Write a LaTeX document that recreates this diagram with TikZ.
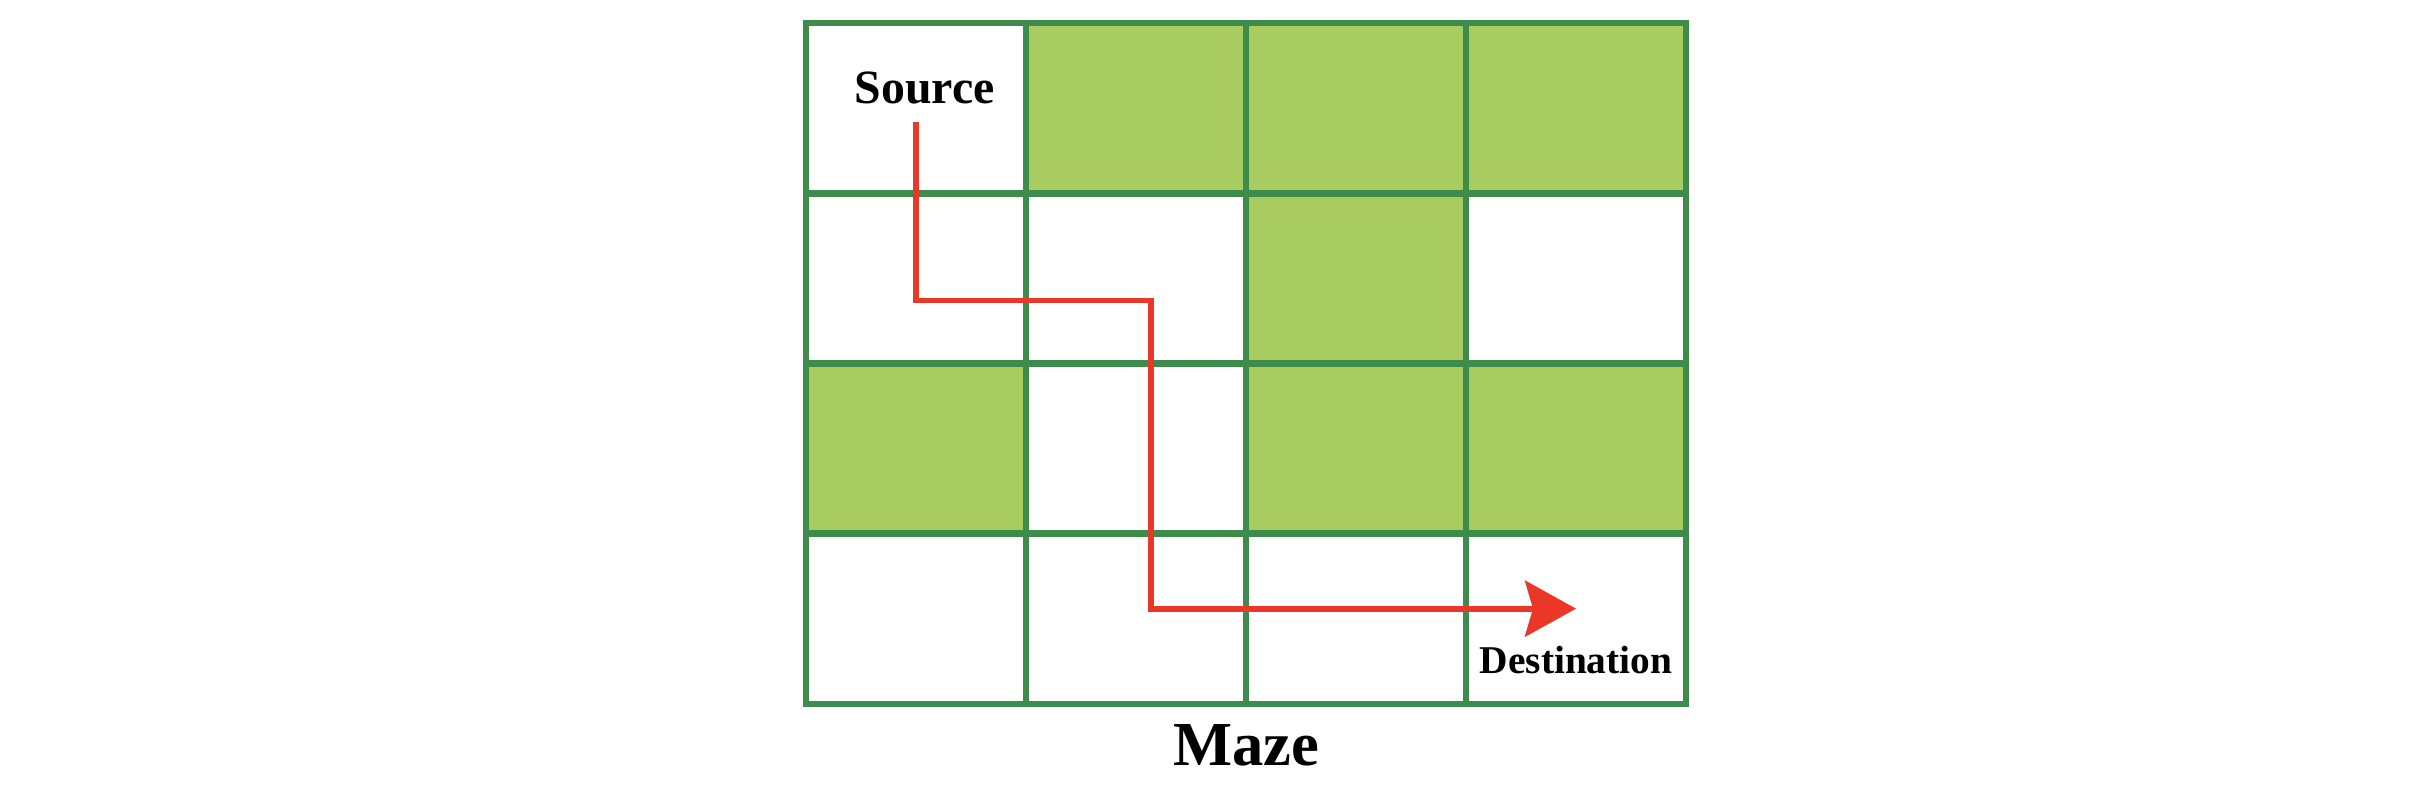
\documentclass[tikz,border=0pt]{standalone}
\usepackage{fontspec}
\setmainfont{Liberation Serif}
\usetikzlibrary{arrows.meta}
\definecolor{wallgreen}{RGB}{62,140,76}
\definecolor{blockfill}{RGB}{168,204,96}
\definecolor{pathred}{RGB}{234,56,40}

\begin{document}
\begin{tikzpicture}
\useasboundingbox (0,0) rectangle (24.22,8.12);
\begin{scope}[shift={(8.06,1.08)}, x=2.2cm, y=1.7025cm]
% ---- blocked cells ----
\foreach \c/\r in {1/3, 2/3, 3/3, 2/2, 0/1, 2/1, 3/1}
  \fill[blockfill] (\c,\r) rectangle ++(1,1);

% ---- maze walls ----
\foreach \c in {1,2,3}
  \draw[line width=1.9pt, wallgreen] (\c,0) -- (\c,4);
\foreach \r in {1,2,3}
  \draw[line width=1.9pt, wallgreen] (0,\r) -- (4,\r);
\draw[line width=1.9pt, wallgreen, line join=miter] (0,0) rectangle (4,4);

% ---- labels ----
\node[font=\bfseries\fontsize{13.6}{16}\selectfont] (src) at (0.54,3.62) {Source};
\node[font=\bfseries\fontsize{11.2}{13}\selectfont] (dst) at (3.5,0.26) {Destination};
\node[font=\bfseries\fontsize{17.8}{21}\selectfont] (title) at (2,-0.24) {Maze};

% ---- route from source to destination ----
\coordinate (start) at (0.5,3.42);
\coordinate (turn) at (1.57,2.37);
\coordinate (goal) at (3.5,0.56);
\draw[line width=1.7pt, pathred, -{Stealth[length=5.1mm, width=5.6mm, inset=0.8mm]}]
  (start) |- (turn) |- (goal);
\end{scope}
\end{tikzpicture}
\end{document}
